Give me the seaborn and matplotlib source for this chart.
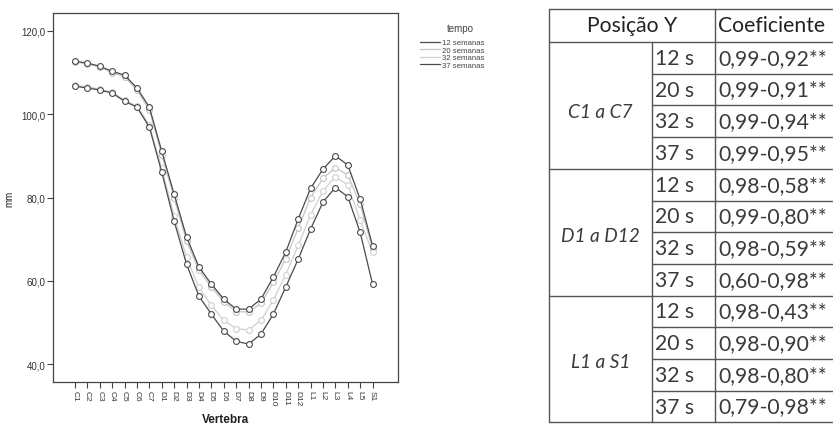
import numpy as np
import pandas as pd
import matplotlib
matplotlib.use("Agg")
import matplotlib.pyplot as plt
import seaborn as sns
from matplotlib.lines import Line2D

# ---------------- data ----------------
vertebras = ['C1', 'C2', 'C3', 'C4', 'C5', 'C6', 'C7',
             'D1', 'D2', 'D3', 'D4', 'D5', 'D6', 'D7', 'D8', 'D9', 'D10', 'D11', 'D12',
             'L1', 'L2', 'L3', 'L4', 'L5', 'S1']
sem12 = [106.7, 106.3, 105.8, 105.1, 103.1, 101.7, 96.9, 86.1, 74.3, 64.0, 56.3, 52.0, 47.9,
         45.5, 44.8, 47.2, 52.0, 58.5, 65.2, 72.4, 78.9, 82.4, 80.2, 71.6, 59.2]
sem20 = [112.5, 112.1, 111.3, 110.0, 109.0, 105.8, 101.0, 90.3, 79.8, 69.6, 62.5, 58.5, 55.0,
         52.6, 52.5, 54.6, 59.6, 65.3, 72.6, 80.0, 84.6, 87.2, 85.4, 78.4, 67.6]
sem32 = [106.9, 106.6, 106.0, 105.3, 103.4, 102.0, 97.4, 87.0, 75.5, 65.6, 58.4, 54.1, 50.5,
         48.5, 48.2, 50.5, 55.4, 61.5, 68.5, 75.8, 81.6, 85.0, 83.0, 74.5, 66.8]
sem37 = [112.7, 112.3, 111.5, 110.3, 109.4, 106.3, 101.7, 91.1, 80.8, 70.5, 63.3, 59.2, 55.6,
         53.2, 53.2, 55.6, 60.9, 66.9, 74.8, 82.2, 86.8, 90.0, 87.8, 79.6, 68.4]
tempos = ['12 semanas', '20 semanas', '32 semanas', '37 semanas']
yticks = [40, 60, 80, 100, 120]
ytick_labels = ['40,0', '60,0', '80,0', '100,0', '120,0']

tab_header = ['Posição Y', 'Coeficiente']
tab_groups = ['C1 a C7', 'D1 a D12', 'L1 a S1']
tab_weeks = ['12 s', '20 s', '32 s', '37 s']
tab_coef = [['0,99-0,92**', '0,99-0,91**', '0,99-0,94**', '0,99-0,95**'],
            ['0,98-0,58**', '0,99-0,80**', '0,98-0,59**', '0,60-0,98**'],
            ['0,98-0,43**', '0,98-0,90**', '0,98-0,80**', '0,79-0,98**']]

# ---------------- style ----------------
sns.set_theme(style="white")
plt.rcParams['font.family'] = ['Liberation Sans', 'DejaVu Sans']

dark = '#4a4a4a'
light = '#c4c4c4'
palette = {'12 semanas': dark, '20 semanas': light, '32 semanas': '#d0d0d0', '37 semanas': dark}

rows = []
for t, vals in zip(tempos, [sem12, sem20, sem32, sem37]):
    for v, m in zip(vertebras, vals):
        rows.append({'Vertebra': v, 'mm': m, 'tempo': t})
df = pd.DataFrame(rows)

W, H = 833, 427
fig = plt.figure(figsize=(W / 100, H / 100), dpi=100)
ax = fig.add_axes([53 / W, 1 - 383 / H, 345 / W, 369 / H])

sns.lineplot(data=df, x='Vertebra', y='mm', hue='tempo',
             hue_order=['20 semanas', '32 semanas', '12 semanas', '37 semanas'],
             palette=palette, marker='o', markersize=4.2, markerfacecolor='white',
             markeredgewidth=0.8, linewidth=0.9, sort=False, legend=False, ax=ax)
for ln in ax.lines:
    ln.set_markeredgecolor(ln.get_color())
    ln.set_markerfacecolor('white')

ax.set_xlim(-1.77, 26.05)
ax.set_ylim(35.7, 124.3)
ax.set_xticks(range(len(vertebras)))
ax.set_xticklabels(vertebras, rotation=270, fontsize=6)
ax.set_yticks(yticks)
ax.set_yticklabels(ytick_labels, fontsize=7)
ax.tick_params(axis='both', direction='out', length=4, width=0.8, color='#444444',
               bottom=True, left=True, pad=1.5, labelcolor='#333333')
for s in ax.spines.values():
    s.set_color('#444444')
    s.set_linewidth(0.9)
ax.set_xlabel('Vertebra', fontsize=8.5, fontweight='bold', color='#222222', labelpad=6)
ax.set_ylabel('mm', fontsize=7, color='#222222', labelpad=5)

handles = [Line2D([], [], color=palette[t], lw=0.9) for t in tempos]
fig.text(447 / W, 1 - 29 / H, 'tempo', ha='left', va='center', fontsize=7, color='#444444')
leg = fig.legend(handles, tempos, loc='upper left',
                 bbox_to_anchor=(420 / W, 1 - 40 / H), frameon=False,
                 fontsize=5.6, handlelength=2.6, handletextpad=0.25,
                 labelspacing=0.0, borderaxespad=0, borderpad=0)
for t in leg.get_texts():
    t.set_color('#444444')

# ---------------- table ----------------
tax = fig.add_axes([0, 0, 1, 1])
tax.set_xlim(0, W)
tax.set_ylim(H, 0)
tax.axis('off')

x0, x1, x2, x3 = 549, 652, 715, 840
ytop, yhead, rh = 10, 43, 31.7
lc = '#555555'
lw = 1.0
tfont = ['Lato', 'DejaVu Sans']
ybot = yhead + 12 * rh

tax.plot([x0, x3], [ytop, ytop], color=lc, lw=lw)
tax.plot([x0, x3], [yhead, yhead], color=lc, lw=lw)
tax.plot([x0, x0], [ytop, ybot], color=lc, lw=lw)
tax.plot([x2, x2], [ytop, ybot], color=lc, lw=lw)
tax.plot([x1, x1], [yhead, ybot], color=lc, lw=lw)
for k in range(1, 13):
    y = yhead + k * rh
    xs = x0 if k % 4 == 0 else x1
    tax.plot([xs, x3], [y, y], color=lc, lw=lw)

fs = 15.2
tcol = '#3a3a3a'
tax.text((x0 + x2) / 2, (ytop + yhead) / 2, tab_header[0], ha='center', va='center',
         fontsize=fs, family=tfont, color='#222222')
tax.text(x2 + 3, (ytop + yhead) / 2, tab_header[1], ha='left', va='center',
         fontsize=fs, family=tfont, color='#222222')
for g, name in enumerate(tab_groups):
    gy = yhead + g * 4 * rh + 2 * rh + (6 if g == 0 else 3)
    tax.text((x0 + x1) / 2, gy, name, ha='center', va='center', fontsize=fs - 1.5,
             family=tfont, style='italic', color=tcol)
    for r in range(4):
        yc = yhead + (g * 4 + r + 0.5) * rh
        tax.text(x1 + 3, yc, tab_weeks[r], ha='left', va='center', fontsize=fs,
                 family=tfont, color=tcol)
        tax.text(x2 + 3, yc, tab_coef[g][r], ha='left', va='center', fontsize=fs,
                 family=tfont, color=tcol)

fig.savefig('out.png', dpi=100, facecolor='white')
